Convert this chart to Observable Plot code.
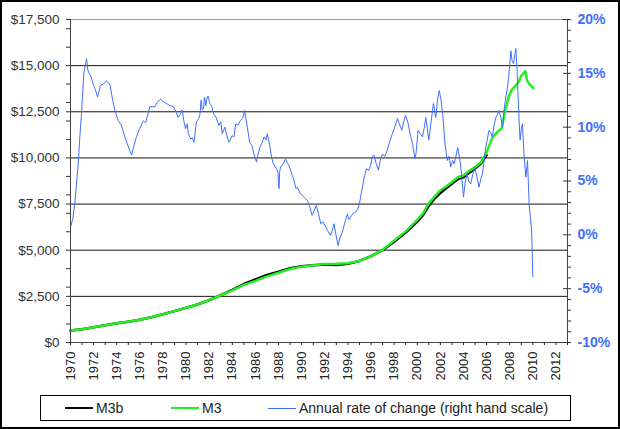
<!DOCTYPE html>
<html><head><meta charset="utf-8">
<script src="https://cdn.jsdelivr.net/npm/d3@7"></script>
<script src="https://cdn.jsdelivr.net/npm/@observablehq/plot@0.6"></script>
<style>
body{margin:0;background:#fff;font-family:Arial,"Liberation Sans",sans-serif}
#wrap{position:relative;width:620px;height:429px;overflow:hidden;background:#fff}
#chart{position:absolute;left:0;top:0}
#legend{position:absolute;left:40px;top:395px;width:531px;height:26px;border:1px solid #000;box-sizing:border-box;font-size:14px;color:#222;background:#fff}
.item{position:absolute;top:0;height:24px;display:flex;align-items:center;white-space:nowrap}
.sw{display:inline-block;width:28px;margin-right:3px}
#border{position:absolute;left:0;top:0;right:0;bottom:0;border:2px solid #000;pointer-events:none}
</style></head>
<body><div id="wrap"><div id="chart"></div><div id="legend"></div><div id="border"></div></div>
<script>
// M3 (green)
const m3Years = [1970,1971,1972,1973,1974,1975,1976,1977,1978,1979,1980,1981,1982,1983,1984,1985,1986,1987,1988,1989,1990,1991,1992,1993,1994,1995,1996,1997,1998,1999,2000,2000.5,2001,2001.5,2002,2002.5,2003,2003.5,2004,2004.5,2005,2005.5,2006,2006.5,2007,2007.3,2007.6,2007.9,2008.2,2008.5,2008.75,2009.0,2009.35,2009.5,2009.7,2010.05];
const m3Values = [650,720,830,940,1040,1130,1230,1370,1530,1700,1880,2060,2300,2560,2820,3120,3340,3580,3780,3980,4110,4190,4250,4260,4290,4420,4680,5020,5520,6020,6650,7000,7550,7900,8250,8450,8700,8950,9050,9300,9500,9750,10300,11100,11450,11600,12550,13300,13700,13900,14100,14450,14700,14200,14000,13780];
// M3b (black)
const m3bYears = [1970,1971,1972,1973,1974,1975,1976,1977,1978,1979,1980,1981,1982,1983,1984,1985,1986,1987,1988,1989,1990,1991,1992,1993,1994,1995,1996,1997,1998,1999,2000,2000.5,2001,2001.5,2002,2002.5,2003,2003.5,2004,2004.5,2005,2005.5,2006];
const m3bValues = [650,720,830,940,1040,1130,1230,1370,1530,1700,1880,2060,2300,2560,2850,3170,3420,3660,3840,4030,4130,4190,4220,4200,4260,4420,4680,5000,5460,5960,6550,6900,7400,7800,8100,8350,8600,8850,8950,9200,9420,9700,10150];
// Annual rate of change (%), right hand scale
const rateYears = [1970.0,1970.2,1970.37,1970.5,1970.67,1970.8,1970.95,1971.15,1971.39,1971.5,1971.62,1971.8,1971.96,1972.15,1972.34,1972.6,1972.85,1973.1,1973.4,1973.6,1973.84,1974.13,1974.4,1974.7,1975.0,1975.28,1975.5,1975.7,1976.0,1976.3,1976.5,1976.87,1977.3,1977.5,1977.8,1978.0,1978.3,1978.6,1978.9,1979.1,1979.3,1979.5,1979.67,1979.8,1979.96,1980.1,1980.2,1980.4,1980.55,1980.68,1980.9,1981.1,1981.2,1981.3,1981.4,1981.5,1981.6,1981.7,1981.8,1981.9,1982.06,1982.2,1982.4,1982.6,1982.84,1983.0,1983.13,1983.36,1983.5,1983.7,1984.0,1984.15,1984.29,1984.5,1984.7,1984.9,1985.06,1985.3,1985.5,1985.7,1985.87,1986.1,1986.2,1986.4,1986.6,1986.74,1986.9,1987.03,1987.26,1987.4,1987.55,1987.84,1987.95,1988.04,1988.1,1988.18,1988.4,1988.6,1988.75,1988.9,1989.2,1989.35,1989.5,1989.63,1989.9,1990.06,1990.3,1990.5,1990.7,1990.9,1991.1,1991.27,1991.45,1991.65,1991.85,1992.08,1992.3,1992.5,1992.65,1992.8,1992.95,1993.15,1993.3,1993.52,1993.7,1993.96,1994.1,1994.24,1994.45,1994.67,1994.85,1995.0,1995.25,1995.45,1995.6,1995.8,1995.97,1996.1,1996.26,1996.45,1996.64,1996.8,1996.98,1997.2,1997.4,1997.6,1997.85,1998.05,1998.28,1998.45,1998.66,1998.85,1999.0,1999.2,1999.44,1999.6,1999.8,1999.9,2000.07,2000.25,2000.45,2000.6,2000.74,2000.85,2001.0,2001.2,2001.4,2001.6,2001.75,2001.9,2002.05,2002.2,2002.4,2002.6,2002.75,2002.9,2003.05,2003.2,2003.35,2003.5,2003.65,2003.77,2003.9,2004.0,2004.15,2004.3,2004.45,2004.63,2004.8,2004.98,2005.15,2005.35,2005.5,2005.64,2005.8,2005.93,2006.05,2006.2,2006.35,2006.5,2006.65,2006.8,2006.95,2007.08,2007.25,2007.38,2007.5,2007.66,2007.8,2007.9,2008.0,2008.1,2008.2,2008.33,2008.45,2008.53,2008.63,2008.73,2008.82,2008.9,2009.0,2009.1,2009.25,2009.4,2009.54,2009.68,2009.8,2009.9,2010.0];
const rateValues = [0.7,1.5,2.9,4.5,6.6,9.0,11.2,15.0,16.35,15.3,15.0,14.6,14.0,13.5,12.8,13.9,14.0,14.3,14.0,12.8,11.55,10.6,10.2,9.1,8.2,7.4,8.3,9.1,9.9,10.6,10.4,11.9,11.9,12.3,12.6,12.4,12.2,12.0,11.9,11.5,10.9,11.2,11.6,10.6,9.85,10.3,9.4,8.9,9.0,8.6,10.5,10.8,11.2,12.5,11.6,11.7,12.8,12.0,12.6,12.9,12.2,12.0,11.2,10.9,10.15,10.5,9.4,10.0,9.3,8.6,9.2,9.1,10.3,10.2,10.6,10.8,11.55,10.0,8.6,8.3,7.5,6.75,7.4,8.15,8.6,9.1,8.8,9.4,8.15,7.2,6.6,6.1,5.8,4.3,5.9,6.3,6.6,7.05,6.7,6.45,5.5,5.0,4.3,4.4,3.8,3.66,3.4,3.2,2.6,1.8,2.3,2.73,2.0,1.03,1.2,0.72,0.3,-0.06,0.4,1.03,0.1,-1.0,-0.3,0.25,1.0,1.96,1.4,1.65,2.0,2.1,2.4,2.9,4.43,5.5,6.14,6.0,6.45,7.2,7.4,6.6,6.0,6.9,7.5,7.3,7.84,8.6,9.4,10.0,10.8,10.3,9.7,10.6,11.1,10.4,9.1,8.4,7.07,7.6,9.7,9.4,9.1,9.9,10.9,10.0,8.8,10.5,12.2,10.9,12.5,13.4,12.6,11.2,8.45,6.9,7.3,6.3,6.9,6.6,7.3,8.1,7.2,6.3,4.8,3.5,4.9,5.67,5.0,4.74,5.6,6.3,5.4,4.43,5.2,5.67,7.0,8.14,8.8,9.7,9.5,9.1,10.2,10.9,11.2,11.55,10.8,10.0,11.5,12.8,13.6,14.6,15.8,17.1,16.2,15.9,16.8,17.3,15.5,12.8,10.4,8.8,9.8,10.3,7.2,5.35,6.9,2.9,1.5,0.4,-3.9];
// Axis ticks
const yearTicks = d3.range(1970, 2014, 1);
const dollarTicks = Array.from(new Set([...d3.range(0, 17501, 1000), ...d3.range(0, 17501, 2500)])).sort((a,b)=>a-b);
const gridValues = [2500, 5000, 7500, 10000, 12500, 15000];
const pctTicks = d3.range(-10, 21, 1);
const pctMajor = d3.range(-10, 21, 5);

const m3Data = m3Years.map((y, i) => ({year: y, value: m3Values[i]}));
const m3bData = m3bYears.map((y, i) => ({year: y, value: m3bValues[i]}));
const rateData = rateYears.map((y, i) => ({year: y, rate: rateValues[i]}));
// right-hand scale mapped onto the dollar scale: -10% -> $0, 20% -> $17,500
const toY = p => (p + 10) * 17500 / 30;
const fromY = v => Math.round(v * 30 / 17500 - 10);

const BLUE = "#3f6fff";
const chart = Plot.plot({
  width: 620, height: 390,
  marginLeft: 70, marginRight: 53, marginTop: 19, marginBottom: 48,
  style: {fontFamily: "Arial, 'Liberation Sans', sans-serif", background: "transparent", overflow: "visible"},
  x: {domain: [1970, 2013], label: null},
  y: {domain: [0, 17500], label: null},
  marks: [
    Plot.ruleY(gridValues, {stroke: "#111"}),
    Plot.ruleY([17500], {stroke: "#999"}),
    Plot.line(m3bData, {x: "year", y: "value", stroke: "#000", strokeWidth: 2.5}),
    Plot.line(m3Data, {x: "year", y: "value", stroke: "#22ee22", strokeWidth: 2.5}),
    Plot.line(rateData, {x: "year", y: d => toY(d.rate), stroke: BLUE, strokeWidth: 1}),
    Plot.ruleX([1970], {stroke: "#444"}),
    Plot.ruleX([2013], {stroke: "#444"}),
    Plot.ruleY([0], {stroke: "#444"}),
    Plot.axisX({ticks: yearTicks, tickFormat: d => d % 2 === 0 ? String(d) : "", tickRotate: -90, tickSize: 3, tickPadding: 6, fontSize: 13, color: "#222", label: null}),
    Plot.axisY({ticks: dollarTicks, tickFormat: d => d % 2500 === 0 ? d3.format("$,")(d) : "", tickSize: 4, tickPadding: 7, fontSize: 13.5, color: "#333", label: null}),
    Plot.axisY(pctTicks.map(toY), {anchor: "right", tickSize: 3, tickFormat: () => "", color: "#333", label: null}),
    Plot.axisY(pctMajor.map(toY), {anchor: "right", tickSize: 5, dx: -5, tickFormat: () => "", color: "#333", label: null}),
    Plot.axisY(pctMajor.map(toY), {anchor: "right", tickSize: 0, tickPadding: 10, tickFormat: v => fromY(v) + "%", color: BLUE, fontWeight: "bold", fontSize: 14, label: null})
  ]
});
document.getElementById("chart").appendChild(chart);

// Legend
const legendItems = [
  {label: "M3b", color: "#000", width: 2.5, left: 24},
  {label: "M3", color: "#22ee22", width: 2.5, left: 130},
  {label: "Annual rate of change (right hand scale)", color: BLUE, width: 1, left: 227}
];
const leg = document.getElementById("legend");
for (const it of legendItems) {
  const d = document.createElement("div");
  d.className = "item";
  d.style.left = it.left + "px";
  const sw = document.createElement("span");
  sw.className = "sw";
  sw.style.borderTop = it.width + "px solid " + it.color;
  d.appendChild(sw);
  const t = document.createElement("span");
  t.textContent = it.label;
  d.appendChild(t);
  leg.appendChild(d);
}
</script>
</body></html>
